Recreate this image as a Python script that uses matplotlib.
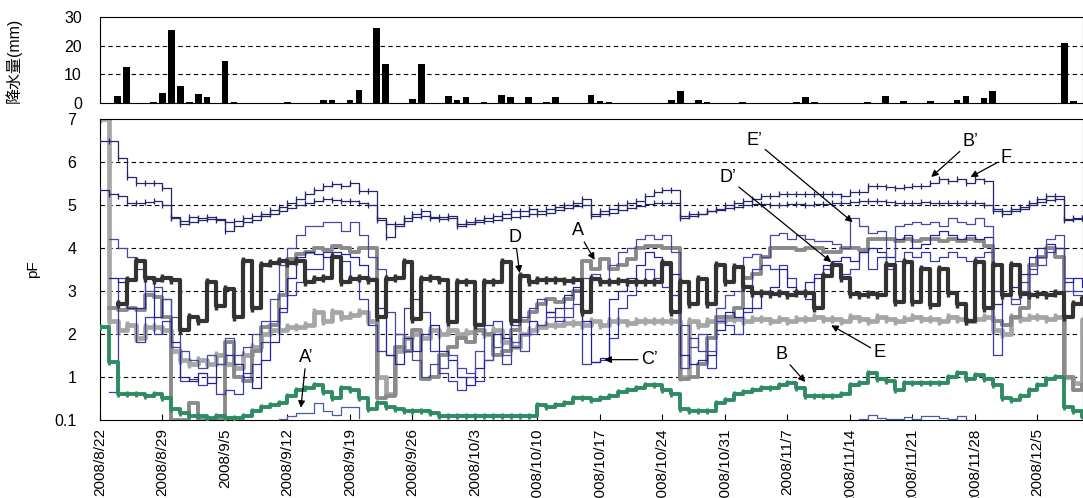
import numpy as np
import matplotlib
matplotlib.use("Agg")
import matplotlib.pyplot as plt

plt.rcParams['font.family'] = ['Liberation Sans', 'Noto Sans CJK JP', 'DejaVu Sans']

nan = np.nan

# rainfall (day index from 2008/8/22, mm)
rain_day = [2, 3, 6, 7, 8, 9, 10, 11, 12, 14, 15, 21, 25, 26, 28, 29, 31, 32, 35, 36,
            39, 40, 41, 43, 45, 46, 48, 50, 51, 55, 56, 57, 64, 65, 67, 68, 72, 78, 79, 80,
            86, 88, 90, 93, 96, 97, 99, 100, 108, 109]
rain_mm = [2.5, 12.5, 0.5, 3.5, 25.5, 6, 0.5, 3, 2, 14.5, 0.5, 0.3, 1, 1, 1, 4.5, 26, 13.5, 1.5, 13.5,
           2.5, 1, 2, 0.3, 2.9, 2, 2, 0.3, 2, 2.9, 0.7, 0.3, 1.2, 4.3, 1, 0.5, 0.3, 0.3, 2, 0.5,
           0.3, 2.5, 0.7, 0.6, 1, 2.5, 1.6, 4.3, 21, 0.7]

tick_labels = ['2008/8/22', '2008/8/29', '2008/9/5', '2008/9/12', '2008/9/19', '2008/9/26',
               '2008/10/3', '2008/10/10', '2008/10/17', '2008/10/24', '2008/10/31',
               '2008/11/7', '2008/11/14', '2008/11/21', '2008/11/28', '2008/12/5']

# daily pF values, day 0 .. 110
pf_Bp = [6.5, 6.5, 6.1, 5.65, 5.5, 5.5, 5.5, 5.4, 4.7, 4.62,
         4.72, 4.7, 4.72, 4.68, 4.6, 4.62, 4.7, 4.75, 4.8, 4.88,
         4.95, 5.05, 5.15, 5.25, 5.35, 5.45, 5.48, 5.45, 5.52, 5.33,
         5.33, 4.7, 4.55, 4.55, 4.7, 4.8, 4.85, 4.72, 4.72, 4.75,
         4.55, 4.6, 4.65, 4.7, 4.75, 4.8, 4.85, 4.85, 4.9, 4.85,
         4.9, 4.95, 5.0, 5.05, 5.15, 4.8, 4.85, 4.9, 5.0, 5.05,
         5.1, 5.2, 5.3, 5.35, 5.35, 4.7, 4.75, 4.8, 4.85, 4.9,
         5.0, 5.05, 5.1, 5.15, 5.2, 5.2, 5.25, 5.25, 5.25, 5.25,
         5.25, 5.25, 5.25, 5.2, 5.3, 5.3, 5.45, 5.45, 5.42, 5.4,
         5.42, 5.45, 5.45, 5.5, 5.6, 5.55, 5.6, 5.5, 5.6, 5.55,
         4.9, 4.85, 4.9, 4.95, 5.05, 5.15, 5.2, 5.22, 4.68, 4.7,
         4.7]
pf_F = [5.35, 5.25, 5.2, 5.05, 5.05, 5.08, 5.1, 5.0, 4.72, 4.55,
        4.6, 4.65, 4.68, 4.65, 4.4, 4.5, 4.6, 4.65, 4.75, 4.8,
        4.85, 4.92, 5.0, 5.05, 5.1, 5.15, 5.12, 5.1, 5.1, 5.05,
        5.0, 4.65, 4.25, 4.5, 4.62, 4.72, 4.75, 4.7, 4.68, 4.7,
        4.5, 4.55, 4.6, 4.62, 4.65, 4.7, 4.72, 4.75, 4.78, 4.8,
        4.82, 4.88, 4.92, 4.97, 5.0, 4.75, 4.78, 4.82, 4.88, 4.92,
        4.97, 5.02, 5.05, 5.05, 5.05, 4.75, 4.8, 4.8, 4.85, 4.88,
        4.92, 4.95, 5.0, 5.02, 5.02, 5.0, 5.0, 5.02, 5.02, 5.0,
        5.02, 5.02, 5.05, 5.05, 5.08, 5.1, 5.1, 5.1, 5.08, 5.05,
        5.05, 5.05, 5.08, 5.05, 5.05, 5.05, 5.05, 5.05, 5.05, 5.0,
        4.85, 4.8, 4.85, 4.9, 5.0, 5.08, 5.12, 5.15, 4.65, 4.68,
        4.7]
pf_D = [nan, nan, 2.7, 3.25, 3.7, 3.3, 3.25, 3.3, 3.25, 2.1,
        2.4, 2.3, 3.2, 2.65, 3.05, 2.4, 3.7, 2.6, 3.6, 3.65,
        3.7, 3.65, 3.7, 3.2, 3.28, 3.3, 3.8, 3.2, 3.28, 3.3,
        3.25, 2.4, 3.28, 3.3, 3.68, 2.35, 3.28, 3.3, 3.25, 2.28,
        3.2, 3.2, 2.2, 3.2, 3.2, 3.68, 2.3, 3.35, 3.2, 3.25,
        3.25, 3.25, 3.22, 3.25, 2.5, 3.28, 3.2, 3.2, 3.22, 3.2,
        3.2, 3.2, 3.2, 3.65, 2.5, 3.2, 2.7, 3.28, 2.7, 3.6,
        3.2, 3.55, 3.1, 2.95, 2.95, 2.92, 2.95, 2.9, 2.95, 2.95,
        2.6, 3.35, 3.6, 3.3, 2.92, 2.9, 2.92, 2.9, 3.6, 2.75,
        3.68, 2.75, 3.5, 2.68, 3.5, 2.95, 2.7, 2.3, 3.68, 2.6,
        3.6, 2.9, 3.6, 2.92, 2.9, 2.92, 2.9, 2.95, 2.4, 2.7,
        2.8]
pf_A = [nan, 2.6, 2.55, 2.6, 2.55, 2.9, 2.85, 2.4, 0.0, 0.0,
        0.4, 0.0, 0.0, 0.0, 1.8, 1.0, 0.9, 1.6, 2.15, 2.2,
        2.9, 3.75, 3.85, 3.9, 4.0, 3.95, 4.05, 4.0, 3.9, 4.0,
        4.0, 0.5, 0.55, 1.7, 1.6, 2.1, 0.95, 1.0, 1.5, 1.7,
        1.9, 1.8, 2.1, 2.0, 1.5, 1.6, 2.1, 2.3, 2.5, 2.7,
        2.8, 2.75, 2.8, 3.0, 3.7, 3.5, 3.75, 3.5, 3.6, 3.75,
        4.0, 4.05, 4.05, 4.0, 4.0, 0.95, 1.0, 1.3, 1.9, 2.4,
        2.4, 2.6, 3.3, 3.4, 3.8, 4.0, 4.0, 4.0, 3.95, 4.0,
        4.0, 3.9, 3.9, 4.0, 4.0, 3.95, 4.2, 4.2, 4.2, 4.15,
        4.2, 4.15, 4.2, 4.2, 4.15, 4.2, 4.15, 4.2, 4.15, 4.05,
        2.3, 2.2, 2.4, 2.6, 3.6, 3.8, 4.0, 3.8, 1.0, 0.7,
        0.8]
pf_E = [7.0, 2.3, 2.1, 2.2, 1.9, 2.15, 2.15, 2.1, 1.6, 1.4,
        1.3, 1.4, 1.3, 1.5, 1.3, 1.2, 1.5, 1.7, 2.0, 2.1,
        2.1, 2.15, 2.15, 2.2, 2.5, 2.3, 2.5, 2.4, 2.45, 2.5,
        2.3, 1.0, 0.6, 1.6, 1.9, 2.0, 1.9, 2.1, 2.0, 2.1,
        2.0, 2.05, 2.1, 2.0, 2.1, 1.8, 1.7, 2.0, 2.1, 2.15,
        2.2, 2.2, 2.25, 2.25, 2.2, 2.3, 2.2, 2.3, 2.3, 2.25,
        2.3, 2.3, 2.3, 2.3, 2.3, 1.0, 2.3, 2.2, 2.3, 2.3,
        2.35, 2.35, 2.3, 2.35, 2.35, 2.3, 2.35, 2.3, 2.35, 2.35,
        2.4, 2.35, 2.35, 2.3, 2.4, 2.35, 2.3, 2.4, 2.35, 2.3,
        2.35, 2.4, 2.35, 2.35, 2.3, 2.4, 2.35, 2.3, 2.35, 2.4,
        2.1, 2.0, 2.4, 2.35, 2.4, 2.4, 2.35, 2.4, 1.0, 0.85,
        2.3]
pf_B = [2.15, 1.35, 0.6, 0.6, 0.6, 0.55, 0.6, 0.5, 0.25, 0.15,
        0.1, 0.1, 0.05, 0.1, 0.05, 0.05, 0.1, 0.2, 0.3, 0.35,
        0.4, 0.55, 0.7, 0.75, 0.8, 0.65, 0.5, 0.75, 0.7, 0.5,
        0.25, 0.4, 0.3, 0.25, 0.2, 0.2, 0.2, 0.15, 0.1, 0.1,
        0.1, 0.08, 0.1, 0.1, 0.1, 0.1, 0.1, 0.1, 0.1, 0.35,
        0.3, 0.35, 0.4, 0.5, 0.5, 0.45, 0.5, 0.55, 0.65, 0.7,
        0.75, 0.8, 0.8, 0.7, 0.6, 0.25, 0.2, 0.2, 0.2, 0.4,
        0.45, 0.6, 0.65, 0.7, 0.75, 0.75, 0.8, 0.85, 0.75, 0.55,
        0.55, 0.55, 0.55, 0.6, 0.8, 0.85, 1.1, 0.95, 0.9, 0.7,
        0.85, 0.85, 0.85, 0.85, 0.85, 1.0, 1.1, 0.95, 1.05, 0.95,
        0.8, 0.5, 0.45, 0.55, 0.7, 0.8, 0.95, 1.0, 0.3, 0.2,
        0.1]
pf_Ep = [nan, 4.2, 4.0, 3.8, 3.5, 3.0, 3.1, 2.8, 2.4, 1.6,
         1.4, 1.2, 1.5, 1.3, 1.9, 1.5, 1.7, 2.0, 2.3, 2.8,
         3.6, 4.0, 4.3, 4.5, 4.5, 4.6, 4.6, 4.4, 4.6, 4.3,
         3.8, 3.5, 2.5, 2.0, 1.6, 1.4, 1.0, 1.3, 1.2, 1.5,
         1.2, 1.1, 1.6, 1.4, 1.7, 1.5, 1.8, 1.6, 2.0, 2.2,
         2.4, 2.4, 2.6, 3.0, 3.3, 3.4, 3.2, 3.6, 3.9, 4.0,
         4.2, 4.3, 4.2, 4.3, 3.9, 2.2, 1.7, 2.0, 1.6, 2.6,
         2.9, 3.0, 3.8, 3.85, 3.8, 4.3, 4.35, 4.2, 4.3, 4.2,
         4.15, 4.15, 4.1, 4.0, 4.7, 4.5, 4.35, 4.4, 3.5, 4.5,
         4.55, 4.6, 4.55, 4.6, 4.5, 4.7, 4.6, 4.55, 4.7, 4.5,
         3.0, 2.9, 2.7, 3.0, 3.5, 3.6, 4.2, 4.3, 3.0, 2.9,
         2.85]
pf_Dp = [nan, 3.3, 3.2, 2.6, 2.6, 3.3, 2.4, 2.8, 1.8, 1.0,
         0.9, 1.1, 0.85, 1.3, 1.5, 1.3, 1.0, 0.75, 1.4, 1.8,
         2.6, 3.3, 3.8, 3.9, 3.85, 3.8, 3.9, 3.85, 3.8, 3.6,
         3.3, 2.6, 1.5, 1.3, 1.9, 1.6, 2.0, 2.2, 1.6, 1.4,
         1.0, 0.8, 1.2, 1.4, 2.0, 1.9, 1.7, 2.0, 2.3, 2.2,
         2.5, 2.6, 2.9, 3.1, 2.3, 1.35, 1.45, 2.8, 3.0, 3.3,
         3.6, 3.9, 3.8, 3.6, 3.4, 1.5, 1.3, 1.4, 1.5, 2.1,
         2.5, 2.4, 2.6, 2.6, 3.0, 3.1, 3.5, 3.1, 3.0, 3.2,
         3.3, 3.6, 3.7, 3.8, 3.7, 3.9, 4.0, 3.9, 3.8, 4.2,
         4.3, 4.0, 4.1, 4.3, 4.4, 4.3, 4.2, 4.3, 4.2, 4.25,
         2.7, 2.9, 3.1, 3.4, 3.8, 4.0, 4.1, 4.0, 3.2, 3.3,
         3.1]
pf_Cp = [nan, 0.65, 3.3, 2.6, 1.8, 2.4, 2.0, 2.3, 1.7, 0.9,
         0.95, 0.8, 1.0, 0.6, 0.7, 0.6, 1.1, 1.3, 1.8, 2.3,
         2.5, 2.9, 3.2, 3.5, 3.5, 3.9, 3.8, 3.7, 3.3, 2.8,
         2.2, 1.6, 1.5, 2.0, 2.6, 2.8, 2.5, 1.6, 1.1, 0.9,
         0.7, 1.0, 0.9, 2.2, 2.3, 1.3, 2.2, 2.4, 2.6, 2.8,
         2.5, 2.3, 2.4, 2.7, 1.3, 1.35, 1.4, 1.9, 2.6, 2.9,
         3.2, 3.5, 3.3, 3.1, 2.9, 1.2, 1.9, 1.6, 1.2, 2.3,
         2.2, 2.0, 2.5, 3.5, 3.6, 3.5, 3.6, 3.3, 3.0, 2.8,
         3.4, 3.5, 3.6, 3.4, 3.5, 3.9, 3.5, 3.8, 3.6, 3.7,
         3.9, 3.8, 3.9, 3.7, 3.8, 3.9, 3.8, 3.7, 3.8, 3.9,
         1.5, 2.9, 2.8, 3.2, 3.4, 3.8, 3.9, 4.0, 3.3, 3.0,
         3.0]
# A' only shows up near the bottom of the axis
ap_day1 = [20, 21, 22, 23, 24, 25, 26, 27, 28, 29]
ap_val1 = [0.02, 0.08, 0.15, 0.15, 0.4, 0.2, 0.12, 0.3, 0.3, 0.05]
ap_day2 = [85, 86, 87, 88, 89, 90, 91, 92, 93, 94, 95, 96, 97]
ap_val2 = [0.02, 0.12, 0.05, 0.02, 0.02, 0.06, 0.02, 0.1, 0.1, 0.05, 0.02, 0.08, 0.02]

days = np.arange(len(pf_B))
xmin, xmax = 0, 110.1

fig = plt.figure(figsize=(10.83, 4.98), dpi=100)
ax1 = fig.add_axes([0.0923, 0.793, 0.9077, 0.173])
ax2 = fig.add_axes([0.0923, 0.157, 0.9077, 0.604])

# rainfall
ax1.bar(rain_day, rain_mm, width=0.75, color='black')
ax1.set_xlim(xmin, xmax)
ax1.set_ylim(0, 30)
ax1.set_yticks([0, 10, 20, 30])
ax1.set_xticks([])
for v in [10, 20]:
    ax1.axhline(v, color='black', lw=0.8, ls=(0, (4, 3)), zorder=0)
ax1.tick_params(axis='y', length=0, labelsize=11.5, pad=13)
ax1.set_ylabel('降水量(mm)', fontsize=11.5)
ax1.yaxis.set_label_coords(-0.08, 0.5)

# pF
def step(y, **kw):
    ax2.plot(days, y, drawstyle='steps-post', **kw)

for v in [1, 2, 3, 4, 5, 6]:
    ax2.axhline(v, color='black', lw=0.8, ls=(0, (4, 3)), zorder=0)

step(pf_E, color='#a6a6a6', lw=3.4, marker='|', ms=6, mew=2.5, mec='#a6a6a6', zorder=2)
step(pf_A, color='#8a8a8a', lw=2.8, zorder=3)
step(pf_Cp, color='#3a3aa8', lw=0.9, zorder=4)
step(pf_Dp, color='#22229a', lw=0.9, zorder=4)
step(pf_Ep, color='#4848a0', lw=0.9, zorder=4)
ax2.plot(ap_day1, ap_val1, drawstyle='steps-post', color='#4a5aa8', lw=0.9, zorder=4)
ax2.plot(ap_day2, ap_val2, drawstyle='steps-post', color='#4a5aa8', lw=0.9, zorder=4)
step(pf_D, color='#333333', lw=3.0, marker='|', ms=6, mew=2.5, zorder=5)
step(pf_B, color='#2e8b63', lw=2.8, marker='|', ms=4, mew=2, zorder=5)
step(pf_F, color='#25256e', lw=0.9, marker='|', ms=4, mew=0.9, zorder=6)
step(pf_Bp, color='#25256e', lw=0.9, marker='|', ms=4, mew=0.9, zorder=6)

ax2.set_xlim(xmin, xmax)
ax2.set_ylim(0, 7)
ax2.set_yticks(range(8))
ax2.set_yticklabels(['0.1', '1', '2', '3', '4', '5', '6', '7'])
ax2.set_xticks(np.arange(len(tick_labels)) * 7)
ax2.set_xticklabels(tick_labels, rotation=90)
ax2.tick_params(axis='x', direction='in', length=4, labelsize=11, pad=6)
ax2.tick_params(axis='y', length=0, labelsize=11.5, pad=17)
ax2.set_ylabel('pF', fontsize=11)
ax2.yaxis.set_label_coords(-0.061, 0.5)

arrow = dict(arrowstyle='-|>', color='black', lw=0.9, mutation_scale=10, shrinkA=0, shrinkB=0)
notes = [
    ("A’", (22.5, 0.28), (23.1, 1.45)),
    ("A", (55.4, 3.72), (53.5, 4.4)),
    ("D", (47.0, 3.42), (46.5, 4.25)),
    ("C’", (56.5, 1.4), (61.5, 1.4)),
    ("E’", (84.3, 4.6), (73.3, 6.5)),
    ("D’", (81.9, 3.67), (70.3, 5.63)),
    ("B’", (93.1, 5.65), (97.5, 6.47)),
    ("F", (97.5, 5.65), (101.5, 6.1)),
    ("E", (81.9, 2.2), (87.3, 1.56)),
    ("B", (79.0, 0.88), (76.3, 1.51)),
]
for lab, xy, xyt in notes:
    ax2.annotate(lab, xy=xy, xytext=xyt, fontsize=13, ha='center', va='center',
                 arrowprops=arrow, zorder=8)

fig.savefig('out.png', dpi=100)
